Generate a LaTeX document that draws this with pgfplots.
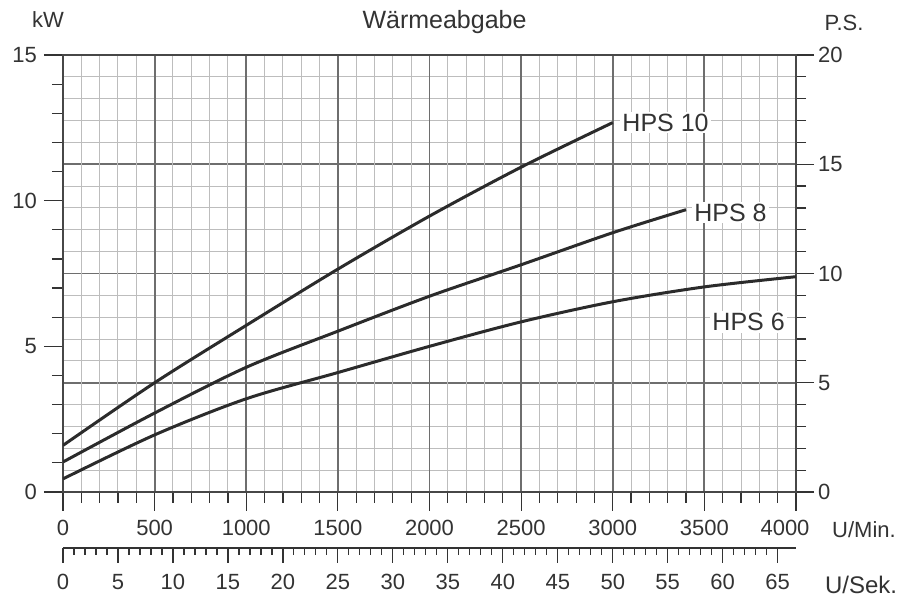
\documentclass[border=0pt]{standalone}
\usepackage{fontspec}
\setmainfont{Liberation Sans}
\usepackage{pgfplots}
\pgfplotsset{compat=1.18}

\definecolor{ink}{HTML}{333333}
\definecolor{curve}{HTML}{2B2B2B}
\definecolor{majgrid}{HTML}{6E6E6E}
\definecolor{mingrid}{HTML}{BDBDBD}

\begin{document}
\begin{tikzpicture}[font=\fontsize{11}{13}\selectfont, color=ink]
\pgfplotsset{
  every axis/.append style={
    scale only axis, width=366.5pt,
    /pgf/number format/assume math mode=true,
    /pgf/number format/1000 sep={},
    tick align=outside,
    tick style={ink, line width=0.6pt},
    tick label style={ink},
  }
}

% P.S. scale: horizontal grid and right-hand ticks
\begin{axis}[
  height=218.5pt,
  xmin=0, xmax=4000, ymin=0, ymax=20,
  hide x axis,
  axis y line*=right,
  y axis line style={-, ink, line width=0.9pt},
  ytick distance=5, minor y tick num=4,
  ymajorgrids, yminorgrids,
  major grid style={majgrid, line width=0.9pt},
  minor grid style={mingrid, line width=0.5pt},
  major tick length=9pt, minor tick length=5pt,
  yticklabel shift=-1.5pt,
]
\end{axis}

% kW scale and U/Min., with the curves
\begin{axis}[
  height=218.5pt,
  xmin=0, xmax=4000, ymin=0, ymax=15,
  xtick={0,500,...,4000},
  xticklabels={0,500,1000,1500,2000,2500,3000,3500,{\hspace*{-11pt}4000}},
  minor x tick num=4,
  ytick distance=5, minor y tick num=4,
  xtick pos=bottom, ytick pos=left,
  xmajorgrids, xminorgrids,
  major grid style={majgrid, line width=0.9pt},
  minor grid style={mingrid, line width=0.5pt},
  axis line style={ink!90, line width=0.9pt},
  major tick length=9.5pt, minor tick length=5.5pt,
  xticklabel shift=1pt,
]
\addplot[smooth, line width=1.5pt, curve] coordinates {
  (0,1.60)(500,3.75)(1000,5.72)(1500,7.65)(2000,9.47)(2500,11.15)(3000,12.68)
};
\addplot[smooth, line width=1.5pt, curve] coordinates {
  (0,1.03)(500,2.71)(1000,4.28)(1500,5.52)(2000,6.72)(2500,7.80)(3000,8.90)(3400,9.69)
};
\addplot[smooth, line width=1.5pt, curve] coordinates {
  (0,0.45)(500,1.96)(1000,3.20)(1500,4.10)(2000,5.00)(2500,5.84)(3000,6.53)(3500,7.04)(4000,7.39)
};
\node[anchor=west, fill=white, inner sep=1pt, font=\fontsize{12.5}{14}\selectfont] at (axis cs:3040,12.68) {HPS 10};
\node[anchor=west, fill=white, inner sep=1pt, font=\fontsize{12.5}{14}\selectfont] at (axis cs:3432,9.59) {HPS 8};
\node[anchor=west, fill=white, inner sep=1pt, font=\fontsize{12.5}{14}\selectfont] at (axis cs:3531,5.84) {HPS 6};
\end{axis}

% U/Sek. scale
\begin{axis}[
  at={(0,-28pt)}, height=1pt,
  xmin=0, xmax=66.667, ymin=0, ymax=1,
  hide y axis,
  axis x line*=bottom,
  x axis line style={-, ink, line width=0.6pt},
  xtick distance=5, minor x tick num=4,
  major tick length=7.5pt, minor tick length=3.5pt,
  xticklabel shift=2pt,
]
\end{axis}

\node at (-7.5pt,236pt) {kW};
\node[font=\fontsize{12.5}{14}\selectfont] at (190.75pt,235pt) {Wärmeabgabe};
\node at (390.5pt,234.5pt) {P.S.};
\node at (400.5pt,-19pt) {U/Min.};
\node[font=\fontsize{12}{14}\selectfont] at (399pt,-46.5pt) {U/Sek.};

\pgfresetboundingbox
\path[use as bounding box] (-31.5pt,-53pt) rectangle (425.5pt,246pt);
\end{tikzpicture}
\end{document}
